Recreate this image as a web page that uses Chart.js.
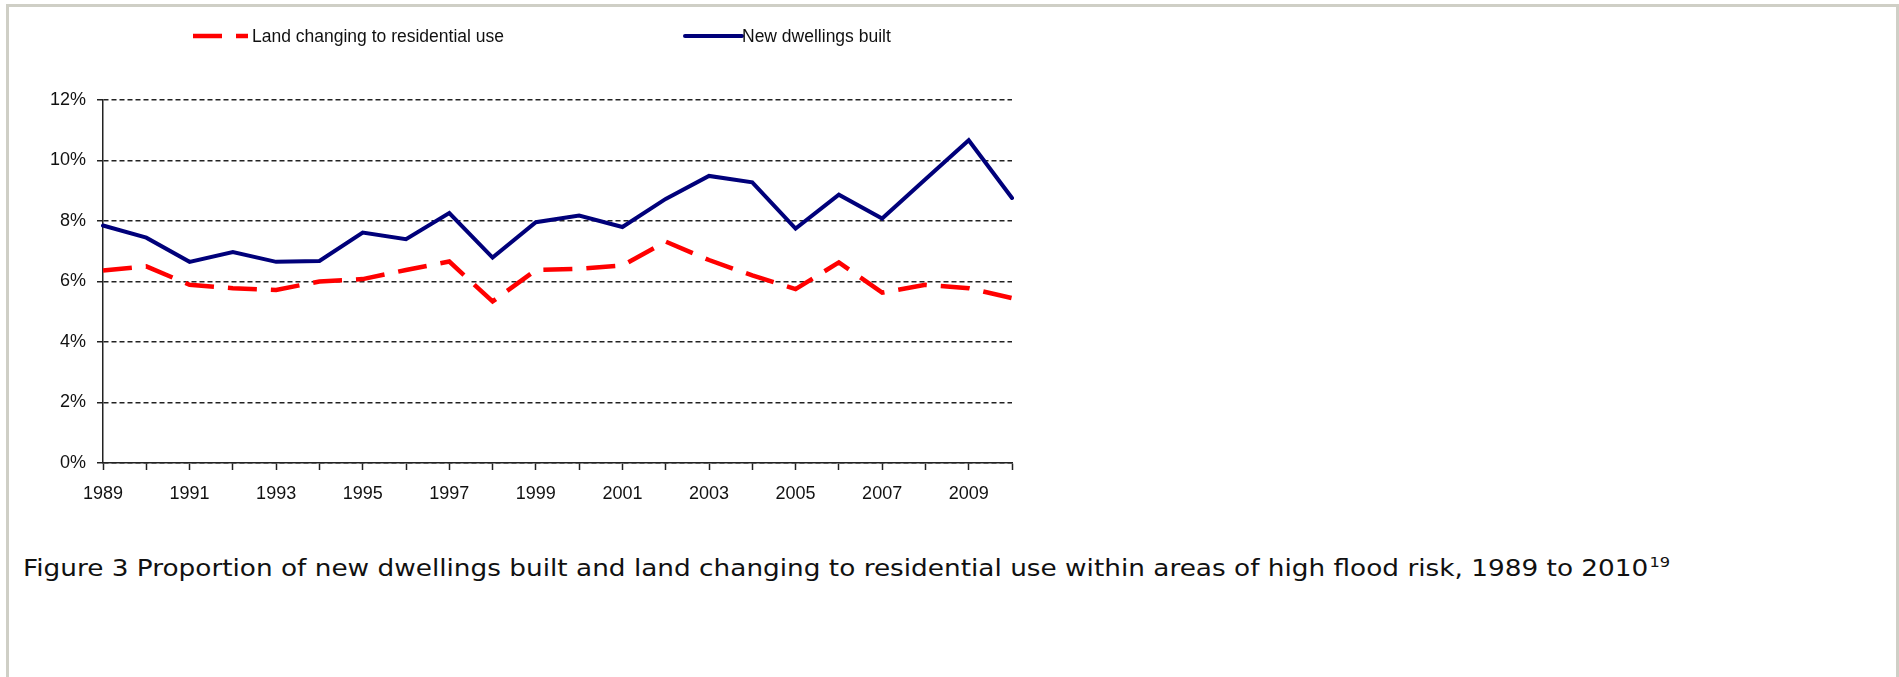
<!DOCTYPE html>
<html>
<head>
<meta charset="utf-8">
<script src="https://cdn.jsdelivr.net/npm/chart.js@4.4.1/dist/chart.umd.min.js"></script>
<style>
  html, body { margin: 0; padding: 0; background: #fff; }
  body { width: 1899px; height: 677px; position: relative; overflow: hidden; }
  .frame {
    position: absolute; left: 6px; top: 4px;
    width: 1887px; height: 720px;
    border: 3px solid #cfcfc6; border-bottom: none;
  }
  #chart { position: absolute; left: 0; top: 0; }
  .caption {
    position: absolute; left: 23px; top: 554px;
    font-family: "DejaVu Sans", Verdana, sans-serif;
    font-size: 23.5px; line-height: 28px; color: #111;
    white-space: nowrap;
    transform: scaleX(1.12); transform-origin: 0 0;
  }
  .caption sup {
    font-size: 14.5px; vertical-align: baseline;
    position: relative; top: -9px; margin-left: 1px;
  }
</style>
</head>
<body>
<div class="frame"></div>
<canvas id="chart" width="1060" height="520"></canvas>
<div class="caption">Figure 3 Proportion of new dwellings built and land changing to residential use within areas of high flood risk, 1989 to 2010<sup>19</sup></div>

<script>
const years = [1989, 1990, 1991, 1992, 1993, 1994, 1995, 1996, 1997, 1998, 1999,
               2000, 2001, 2002, 2003, 2004, 2005, 2006, 2007, 2008, 2009, 2010];

// share (%) of land changing to residential use in high flood risk areas
const landChange = [6.36, 6.50, 5.89, 5.78, 5.72, 6.00, 6.08, 6.38, 6.66, 5.34, 6.38,
                    6.42, 6.53, 7.32, 6.71, 6.20, 5.75, 6.63, 5.63, 5.89, 5.78, 5.45];

// share (%) of new dwellings built in high flood risk areas
const newDwellings = [7.85, 7.45, 6.65, 6.97, 6.65, 6.68, 7.62, 7.40, 8.26, 6.79, 7.96,
                      8.18, 7.80, 8.73, 9.49, 9.28, 7.75, 8.87, 8.08, 9.38, 10.67, 8.76];

const yMin = 0, yMax = 12, yStep = 2;

const FONT = '"Liberation Sans", Arial, sans-serif';

// simple legend: a stroke in the dataset's own style followed by its label
const lineLegend = {
  id: 'lineLegend',
  afterDraw(chart, args, opts) {
    const ctx = chart.ctx;
    ctx.save();
    ctx.font = opts.font;
    ctx.fillStyle = opts.color;
    ctx.textBaseline = 'alphabetic';
    chart.data.datasets.forEach((ds, i) => {
      const it = opts.items[i];
      ctx.strokeStyle = ds.borderColor;
      ctx.lineWidth = ds.borderWidth;
      ctx.lineCap = ds.borderCapStyle || 'butt';
      ctx.setLineDash(ds.borderDash || []);
      ctx.beginPath();
      ctx.moveTo(it.x, opts.lineY);
      ctx.lineTo(it.x + it.w, opts.lineY);
      ctx.stroke();
      ctx.setLineDash([]);
      ctx.fillText(ds.label, it.textX, opts.textY);
    });
    ctx.restore();
  }
};

new Chart(document.getElementById('chart'), {
  type: 'line',
  data: {
    labels: years,
    datasets: [
      {
        label: 'Land changing to residential use',
        data: landChange,
        borderColor: '#ff0000',
        borderWidth: 4.5,
        borderDash: [29, 14],
        pointRadius: 0,
        tension: 0,
        fill: false
      },
      {
        label: 'New dwellings built',
        data: newDwellings,
        borderColor: '#00007a',
        borderWidth: 4,
        borderCapStyle: 'round',
        pointRadius: 0,
        tension: 0,
        fill: false
      }
    ]
  },
  options: {
    responsive: false,
    animation: false,
    devicePixelRatio: 1,
    layout: { padding: { left: 0, top: 100, right: 48, bottom: 0 } },
    plugins: {
      legend: { display: false },
      tooltip: { enabled: false },
      lineLegend: {
        font: '17.5px ' + FONT,
        color: '#111',
        lineY: 36,
        textY: 41.5,
        items: [
          { x: 193, w: 55, textX: 252 },
          { x: 685, w: 57, textX: 742 }
        ]
      }
    },
    scales: {
      x: {
        offset: false,
        afterFit: s => { s.height = 57; },
        grid: {
          display: true,
          drawOnChartArea: false,
          drawTicks: true,
          tickLength: 7,
          tickColor: '#222',
          tickWidth: 1.5,
          offset: false
        },
        border: { display: true, color: '#222', width: 1.5 },
        ticks: {
          autoSkip: false,
          maxRotation: 0,
          padding: 13,
          color: '#111',
          font: { family: FONT, size: 18 },
          callback: (v, i) => (i % 2 === 0 ? years[i] : '')
        }
      },
      y: {
        min: yMin,
        max: yMax,
        afterFit: s => { s.width = 103; },
        grid: {
          color: '#222',
          lineWidth: 1.5,
          drawTicks: true,
          tickLength: 6,
          tickColor: '#222',
          tickWidth: 1.5
        },
        border: { display: true, color: '#222', width: 1.5, dash: [5, 3] },
        ticks: {
          stepSize: yStep,
          padding: 11,
          color: '#111',
          font: { family: FONT, size: 18 },
          callback: v => v + '%'
        }
      }
    }
  },
  plugins: [lineLegend]
});
</script>
</body>
</html>
